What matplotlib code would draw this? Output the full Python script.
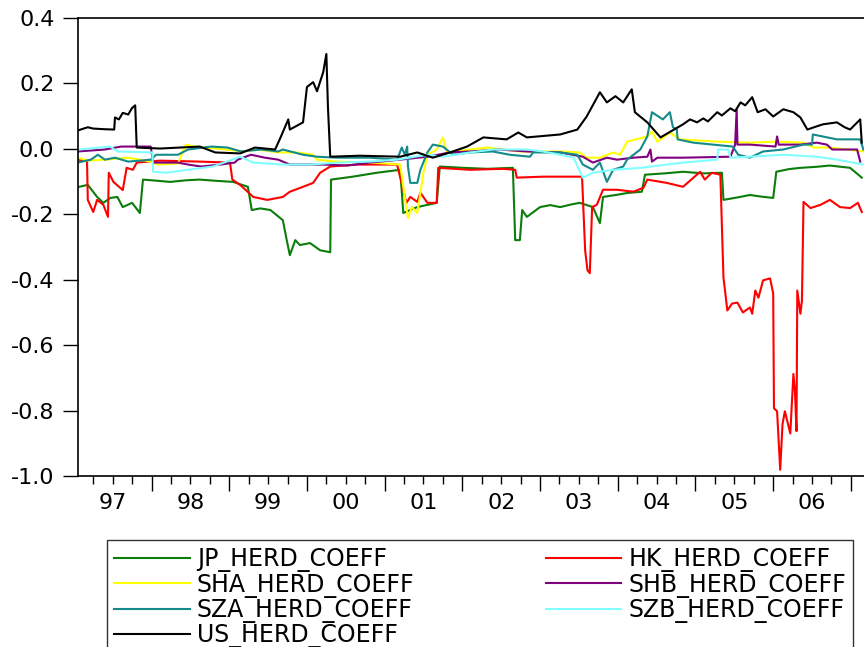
import matplotlib
matplotlib.use("Agg")
import matplotlib.pyplot as plt
import numpy as np

# herd coefficients (time in fractional years)
jp_t = [1997.07, 1997.18, 1997.30, 1997.38, 1997.47, 1997.56, 1997.63, 1997.75, 1997.85, 1997.89,
        1998.05, 1998.24, 1998.45, 1998.62, 1998.85, 1999.05, 1999.24, 1999.29, 1999.40, 1999.53,
        1999.69, 1999.74, 1999.78, 1999.85, 1999.91, 2000.04, 2000.17, 2000.30, 2000.31, 2000.59,
        2000.90, 2001.20, 2001.24, 2001.42, 2001.67, 2001.71, 2002.01, 2002.32, 2002.65, 2002.68,
        2002.74, 2002.77, 2002.83, 2003.00, 2003.13, 2003.26, 2003.40, 2003.51, 2003.68, 2003.77,
        2003.81, 2004.00, 2004.12, 2004.31, 2004.35, 2004.60, 2004.84, 2005.10, 2005.34, 2005.36,
        2005.55, 2005.70, 2005.85, 2006.00, 2006.04, 2006.20, 2006.35, 2006.55, 2006.73, 2006.99,
        2007.14]
jp_v = [-0.116, -0.110, -0.147, -0.165, -0.150, -0.147, -0.178, -0.165, -0.196, -0.094,
        -0.097, -0.101, -0.096, -0.094, -0.098, -0.101, -0.116, -0.187, -0.182, -0.187,
        -0.218, -0.279, -0.325, -0.279, -0.294, -0.288, -0.310, -0.316, -0.094, -0.085,
        -0.073, -0.064, -0.196, -0.178, -0.165, -0.054, -0.058, -0.061, -0.058, -0.279,
        -0.279, -0.187, -0.208, -0.178, -0.172, -0.178, -0.170, -0.165, -0.178, -0.227,
        -0.147, -0.140, -0.135, -0.131, -0.079, -0.075, -0.070, -0.075, -0.073, -0.156,
        -0.148, -0.141, -0.146, -0.150, -0.070, -0.062, -0.058, -0.055, -0.051, -0.058,
        -0.088]

hk_t = [1997.05, 1997.17, 1997.18, 1997.25, 1997.30, 1997.38, 1997.44, 1997.45, 1997.51, 1997.63,
        1997.68, 1997.76, 1997.81, 1998.11, 1998.62, 1999.01, 1999.04, 1999.14, 1999.31, 1999.49,
        1999.69, 1999.78, 1999.95, 2000.08, 2000.17, 2000.30, 2000.64, 2001.16, 2001.28, 2001.33,
        2001.42, 2001.46, 2001.55, 2001.67, 2001.69, 2002.10, 2002.52, 2002.68, 2002.70, 2003.04,
        2003.54, 2003.58, 2003.61, 2003.64, 2003.67, 2003.73, 2003.81, 2003.99, 2004.20, 2004.33,
        2004.38, 2004.63, 2004.84, 2005.06, 2005.12, 2005.21, 2005.32, 2005.36, 2005.41, 2005.47,
        2005.54, 2005.61, 2005.70, 2005.73, 2005.77, 2005.81, 2005.87, 2005.96, 2006.00, 2006.01,
        2006.05, 2006.09, 2006.12, 2006.15, 2006.22, 2006.26, 2006.28, 2006.30, 2006.31, 2006.35,
        2006.37, 2006.39, 2006.48, 2006.61, 2006.73, 2006.86, 2006.99, 2007.09, 2007.14]
hk_v = [-0.033, -0.036, -0.156, -0.193, -0.156, -0.171, -0.208, -0.073, -0.101, -0.126,
        -0.058, -0.064, -0.042, -0.036, -0.039, -0.042, -0.094, -0.110, -0.147, -0.156,
        -0.147, -0.131, -0.116, -0.104, -0.073, -0.054, -0.048, -0.048, -0.165, -0.147,
        -0.162, -0.134, -0.165, -0.165, -0.058, -0.064, -0.061, -0.064, -0.088, -0.085,
        -0.085, -0.310, -0.371, -0.380, -0.178, -0.171, -0.125, -0.125, -0.131, -0.119,
        -0.094, -0.104, -0.116, -0.070, -0.094, -0.073, -0.079, -0.393, -0.494, -0.473,
        -0.470, -0.500, -0.485, -0.504, -0.433, -0.455, -0.402, -0.396, -0.442, -0.793,
        -0.802, -0.981, -0.842, -0.802, -0.870, -0.688, -0.740, -0.863, -0.433, -0.504,
        -0.464, -0.162, -0.181, -0.171, -0.156, -0.178, -0.181, -0.165, -0.193]

sha_t = [1997.05, 1997.18, 1997.40, 1997.70, 1997.99, 1998.08, 1998.34, 1998.44, 1998.56, 1998.69,
         1998.95, 1999.20, 1999.37, 1999.63, 1999.87, 2000.08, 2000.13, 2000.39, 2000.81, 2001.20,
         2001.24, 2001.30, 2001.35, 2001.42, 2001.50, 2001.55, 2001.67, 2001.75, 2001.80, 2002.10,
         2002.32, 2002.74, 2003.26, 2003.51, 2003.60, 2003.77, 2003.94, 2004.03, 2004.12, 2004.38,
         2004.44, 2004.51, 2004.67, 2004.80, 2005.28, 2005.70, 2006.05, 2006.39, 2006.52, 2006.73,
         2007.16]
sha_v = [-0.027, -0.036, -0.033, -0.027, -0.039, -0.048, -0.045, 0.013, 0.007, 0.004,
         -0.002, -0.008, -0.002, -0.011, -0.011, -0.018, -0.033, -0.039, -0.042, -0.048,
         -0.116, -0.211, -0.178, -0.196, -0.073, -0.018, -0.002, 0.035, -0.011, -0.002,
         0.004, -0.008, -0.008, -0.011, -0.027, -0.027, -0.011, -0.018, 0.022, 0.038,
         0.053, 0.022, 0.050, 0.029, 0.022, 0.019, 0.022, 0.019, 0.004, 0.004,
         -0.008]

shb_t = [1997.05, 1997.40, 1997.61, 1997.99, 1998.02, 1998.34, 1998.47, 1998.64, 1998.89, 1999.07,
         1999.11, 1999.28, 1999.46, 1999.63, 1999.78, 2000.21, 2000.52, 2000.81, 2001.20, 2001.55,
         2001.84, 2002.10, 2002.48, 2002.83, 2003.26, 2003.55, 2003.68, 2003.86, 2003.99, 2004.20,
         2004.38, 2004.42, 2004.44, 2004.51, 2004.84, 2005.45, 2005.51, 2005.53, 2005.54, 2005.70,
         2006.03, 2006.05, 2006.07, 2006.35, 2006.56, 2006.69, 2006.76, 2007.08, 2007.12]
shb_v = [-0.008, -0.002, 0.007, 0.007, -0.042, -0.042, -0.048, -0.054, -0.048, -0.042,
         -0.033, -0.018, -0.027, -0.033, -0.048, -0.048, -0.051, -0.042, -0.033, -0.024,
         -0.011, -0.008, -0.002, -0.008, -0.011, -0.024, -0.042, -0.027, -0.033, -0.027,
         -0.024, -0.002, -0.039, -0.027, -0.027, -0.024, 0.013, 0.121, 0.013, 0.013,
         0.007, 0.038, 0.013, 0.013, 0.019, 0.013, -0.002, -0.002, -0.039]

sza_t = [1997.05, 1997.22, 1997.31, 1997.40, 1997.53, 1997.70, 1997.99, 1998.06, 1998.34, 1998.47,
         1998.77, 1998.98, 1999.15, 1999.41, 1999.63, 1999.69, 1999.95, 2000.13, 2000.39, 2000.81,
         2001.16, 2001.22, 2001.26, 2001.29, 2001.30, 2001.33, 2001.42, 2001.46, 2001.55, 2001.62,
         2001.75, 2001.88, 2002.10, 2002.39, 2002.61, 2002.87, 2002.91, 2003.26, 2003.48, 2003.55,
         2003.68, 2003.77, 2003.86, 2003.94, 2004.07, 2004.12, 2004.29, 2004.38, 2004.44, 2004.58,
         2004.67, 2004.71, 2004.76, 2004.77, 2004.97, 2005.48, 2005.55, 2005.70, 2005.87, 2006.13,
         2006.39, 2006.50, 2006.51, 2006.82, 2007.12, 2007.16]
sza_v = [-0.042, -0.033, -0.018, -0.033, -0.027, -0.039, -0.033, -0.018, -0.018, -0.002,
         0.007, 0.004, -0.008, -0.002, -0.008, -0.002, -0.018, -0.024, -0.027, -0.027,
         -0.033, 0.004, -0.018, 0.007, -0.054, -0.104, -0.104, -0.064, -0.011, 0.013,
         0.007, -0.018, -0.011, -0.008, -0.018, -0.024, -0.011, -0.011, -0.018, -0.048,
         -0.064, -0.042, -0.101, -0.064, -0.054, -0.033, -0.002, 0.038, 0.112, 0.090,
         0.112, 0.066, 0.059, 0.029, 0.019, 0.007, -0.018, -0.027, -0.008, -0.002,
         0.013, 0.013, 0.044, 0.029, 0.029, -0.002]

szb_t = [1997.07, 1997.47, 1997.56, 1998.01, 1998.02, 1998.20, 1998.46, 1998.79, 1999.14, 1999.31,
         1999.69, 2000.04, 2000.39, 2000.81, 2001.16, 2001.55, 2001.75, 2002.10, 2002.39, 2002.83,
         2003.04, 2003.26, 2003.43, 2003.55, 2003.68, 2003.94, 2004.29, 2004.84, 2005.28, 2005.29,
         2005.42, 2005.45, 2005.70, 2006.13, 2006.56, 2006.82, 2007.16]
szb_v = [-0.002, 0.007, -0.008, -0.011, -0.070, -0.073, -0.064, -0.054, -0.024, -0.042,
         -0.048, -0.048, -0.042, -0.039, -0.033, -0.018, -0.024, -0.011, -0.002, -0.002,
         -0.008, -0.018, -0.027, -0.088, -0.073, -0.064, -0.058, -0.042, -0.033, -0.002,
         -0.002, -0.027, -0.024, -0.018, -0.024, -0.033, -0.048]

us_t = [1997.05, 1997.10, 1997.18, 1997.25, 1997.40, 1997.52, 1997.53, 1997.58, 1997.63, 1997.70,
        1997.75, 1997.79, 1997.81, 1998.11, 1998.62, 1998.82, 1999.14, 1999.33, 1999.59, 1999.65,
        1999.76, 1999.78, 1999.95, 2000.00, 2000.08, 2000.13, 2000.21, 2000.25, 2000.27, 2000.30,
        2000.68, 2001.20, 2001.42, 2001.62, 2001.84, 2002.06, 2002.27, 2002.57, 2002.72, 2002.83,
        2003.26, 2003.48, 2003.60, 2003.77, 2003.86, 2003.97, 2004.07, 2004.18, 2004.22, 2004.38,
        2004.55, 2004.84, 2004.93, 2005.02, 2005.10, 2005.16, 2005.28, 2005.34, 2005.45, 2005.51,
        2005.58, 2005.64, 2005.73, 2005.80, 2005.90, 2006.00, 2006.13, 2006.26, 2006.35, 2006.44,
        2006.55, 2006.64, 2006.82, 2006.92, 2006.99, 2007.12, 2007.14]
us_v = [0.056, 0.060, 0.066, 0.062, 0.060, 0.059, 0.096, 0.090, 0.110, 0.105,
        0.125, 0.133, 0.004, 0.001, 0.007, -0.011, -0.014, 0.004, -0.002, 0.029,
        0.090, 0.059, 0.081, 0.189, 0.204, 0.176, 0.235, 0.290, 0.130, -0.024,
        -0.021, -0.024, -0.011, -0.027, -0.011, 0.007, 0.035, 0.029, 0.050, 0.035,
        0.044, 0.059, 0.099, 0.173, 0.142, 0.161, 0.142, 0.182, 0.112, 0.081,
        0.035, 0.075, 0.090, 0.081, 0.093, 0.084, 0.112, 0.102, 0.124, 0.115,
        0.142, 0.133, 0.158, 0.112, 0.121, 0.099, 0.121, 0.112, 0.096, 0.059,
        0.068, 0.075, 0.081, 0.066, 0.059, 0.090, 0.019]

names = ["JP_HERD_COEFF", "HK_HERD_COEFF", "SHA_HERD_COEFF", "SHB_HERD_COEFF",
         "SZA_HERD_COEFF", "SZB_HERD_COEFF", "US_HERD_COEFF"]
colors = ["#0a7d0a", "#ff0000", "#ffff00", "#800080", "#158a8a", "#80ffff", "#000000"]
series = [(jp_t, jp_v), (hk_t, hk_v), (sha_t, sha_v), (shb_t, shb_v),
          (sza_t, sza_v), (szb_t, szb_v), (us_t, us_v)]

year_labels = ["97", "98", "99", "00", "01", "02", "03", "04", "05", "06"]
y_ticks = [-1.0, -0.8, -0.6, -0.4, -0.2, 0.0, 0.2, 0.4]

plt.rcParams['font.family'] = ['DejaVu Sans']

fig = plt.figure(figsize=(8.64, 6.47), dpi=100)
ax = fig.add_axes([78 / 864, 1 - 476 / 647, 790 / 864, 458 / 647])

lines = []
for (t, v), c, n in zip(series, colors, names):
    ln, = ax.plot(t, v, color=c, lw=1.5, label=n)
    lines.append(ln)

ax.set_xlim(1997.054, 2007.22)
ax.set_ylim(-1.0, 0.4)
ax.set_yticks(y_ticks)
ax.set_yticklabels(["%.1f" % y for y in y_ticks])
ax.tick_params(axis='y', direction='out', length=11, width=1, pad=6, labelsize=16)

# year labels sit mid-year, tick marks on year/quarter boundaries
years = np.arange(1997, 1997 + len(year_labels))
ax.set_xticks(years + 0.5)
ax.set_xticklabels(year_labels)
ax.tick_params(axis='x', length=0, pad=12, labelsize=16)

sec = ax.secondary_xaxis('bottom')
sec.set_xticks(np.arange(1998, 2008))
sec.set_xticks(np.arange(1997.25, 2007.2, 0.25), minor=True)
sec.tick_params(which='major', direction='out', length=11, width=1, labelbottom=False)
sec.tick_params(which='minor', direction='out', length=6, width=1)
sec.spines['bottom'].set_visible(False)

for s in ax.spines.values():
    s.set_linewidth(1.2)

# legend is filled row by row in the original
order = [0, 2, 4, 6, 1, 3, 5]
leg = fig.legend([lines[i] for i in order], [names[i] for i in order],
                 loc='upper left', bbox_to_anchor=(107 / 864, 1 - 540 / 647, 746 / 864, 0.0),
                 mode='expand', ncol=2, fontsize=17, handlelength=3.2, handletextpad=0.3,
                 labelspacing=0.02, borderpad=0.3, borderaxespad=0, fancybox=False,
                 frameon=True, edgecolor='black')
leg.get_frame().set_linewidth(1.0)

fig.savefig("out.png", dpi=100)
